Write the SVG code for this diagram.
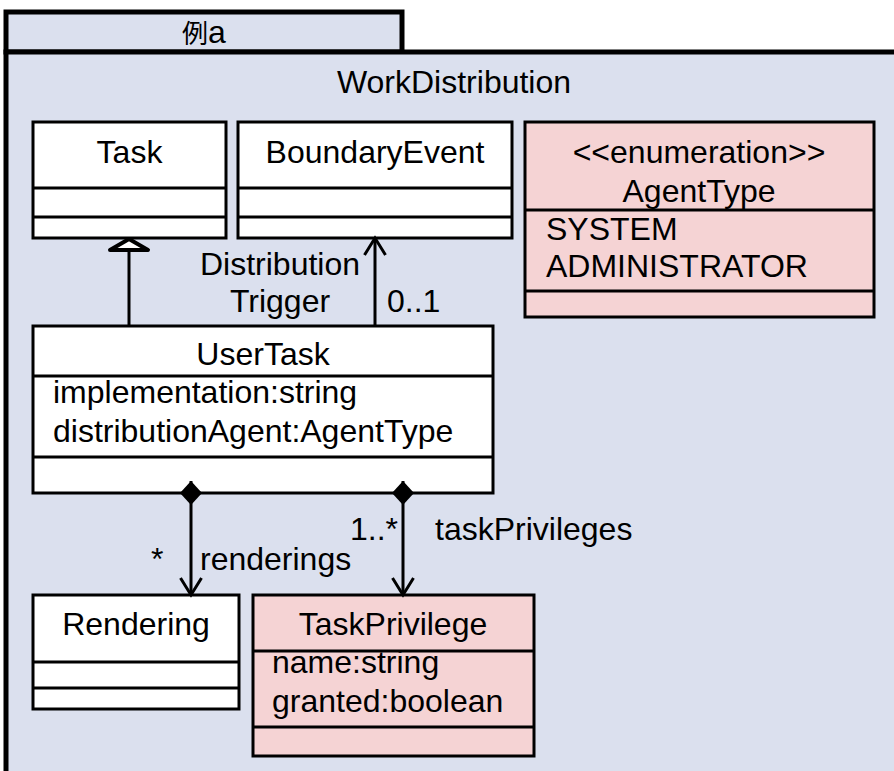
<svg xmlns="http://www.w3.org/2000/svg" width="894" height="771" viewBox="0 0 894 771">
<style>
text{font-family:"Liberation Sans","Noto Sans CJK JP",Arial,sans-serif;font-size:32px;fill:#000}
.c{text-anchor:middle}
.e{text-anchor:end}
.cjk{font-size:26px}
.frame{fill:#DBE0EE;stroke:#000;stroke-width:5}
.cls{fill:#FFFFFF;stroke:#000;stroke-width:3}
.enum{fill:#F5D3D4;stroke:#000;stroke-width:3}
.div{stroke:#000;stroke-width:3;fill:none}
.ln{stroke:#000;stroke-width:3;fill:none}
</style>
<defs>
<marker id="open" markerUnits="userSpaceOnUse" markerWidth="40" markerHeight="40" refX="0" refY="0" orient="auto" overflow="visible">
<path d="M-17,-10.5 L0,0 L-17,10.5" fill="none" stroke="#000" stroke-width="3"/>
</marker>
<marker id="diamond" markerUnits="userSpaceOnUse" markerWidth="40" markerHeight="40" refX="0" refY="0" orient="auto" overflow="visible">
<path d="M0,0 L12,-11 L24,0 L12,11 Z" fill="#000" stroke="none"/>
</marker>
</defs>

<g id="package">
<rect class="frame" x="6" y="12" width="396" height="40"/>
<rect class="frame" x="6" y="52" width="900" height="730"/>
<text class="c" x="204" y="43"><tspan class="cjk">例</tspan>a</text>
<text class="c" x="454" y="93">WorkDistribution</text>
</g>

<g id="Task">
<rect class="cls" x="33" y="122" width="193" height="116"/>
<line class="div" x1="33" y1="188" x2="226" y2="188"/>
<line class="div" x1="33" y1="217" x2="226" y2="217"/>
<text class="c" x="129.5" y="163">Task</text>
</g>

<g id="BoundaryEvent">
<rect class="cls" x="238" y="122" width="274" height="116"/>
<line class="div" x1="238" y1="188" x2="512" y2="188"/>
<line class="div" x1="238" y1="217" x2="512" y2="217"/>
<text class="c" x="375" y="163">BoundaryEvent</text>
</g>

<g id="AgentType">
<rect class="enum" x="525" y="122" width="349" height="195"/>
<line class="div" x1="525" y1="210" x2="874" y2="210"/>
<line class="div" x1="525" y1="291" x2="874" y2="291"/>
<text class="c" x="699" y="163">&lt;&lt;enumeration&gt;&gt;</text>
<text class="c" x="699" y="202">AgentType</text>
<text x="546" y="240">SYSTEM</text>
<text x="546" y="277">ADMINISTRATOR</text>
</g>

<g id="UserTask">
<rect class="cls" x="33" y="326" width="460" height="167"/>
<line class="div" x1="33" y1="376" x2="493" y2="376"/>
<line class="div" x1="33" y1="457" x2="493" y2="457"/>
<text class="c" x="263" y="365">UserTask</text>
<text x="53" y="403">implementation:string</text>
<text x="53" y="442">distributionAgent:AgentType</text>
</g>

<g id="Rendering">
<rect class="cls" x="33" y="595" width="206" height="114"/>
<line class="div" x1="33" y1="662" x2="239" y2="662"/>
<line class="div" x1="33" y1="688" x2="239" y2="688"/>
<text class="c" x="136" y="635">Rendering</text>
</g>

<g id="TaskPrivilege">
<rect class="enum" x="253" y="595" width="281" height="161"/>
<line class="div" x1="253" y1="651" x2="534" y2="651"/>
<line class="div" x1="253" y1="727" x2="534" y2="727"/>
<text class="c" x="393" y="635">TaskPrivilege</text>
<text x="272" y="673">name:string</text>
<text x="272" y="712">granted:boolean</text>
</g>

<g id="connectors">
<line class="ln" x1="129" y1="326" x2="129" y2="250"/>
<path d="M129,239 L148,250 L110,250 Z" fill="#fff" stroke="#000" stroke-width="4" stroke-linejoin="round"/>
<path class="ln" d="M375,326 L375,238" marker-end="url(#open)"/>
<path class="ln" d="M191,481 L191,595" marker-start="url(#diamond)" marker-end="url(#open)"/>
<path class="ln" d="M403,481 L403,595" marker-start="url(#diamond)" marker-end="url(#open)"/>
<text class="c" x="280" y="275">Distribution</text>
<text class="c" x="280" y="312">Trigger</text>
<text x="387" y="312">0..1</text>
<text x="151" y="570">*</text>
<text x="200" y="570">renderings</text>
<text class="e" x="398" y="540">1..*</text>
<text x="435" y="540">taskPrivileges</text>
</g>
</svg>
